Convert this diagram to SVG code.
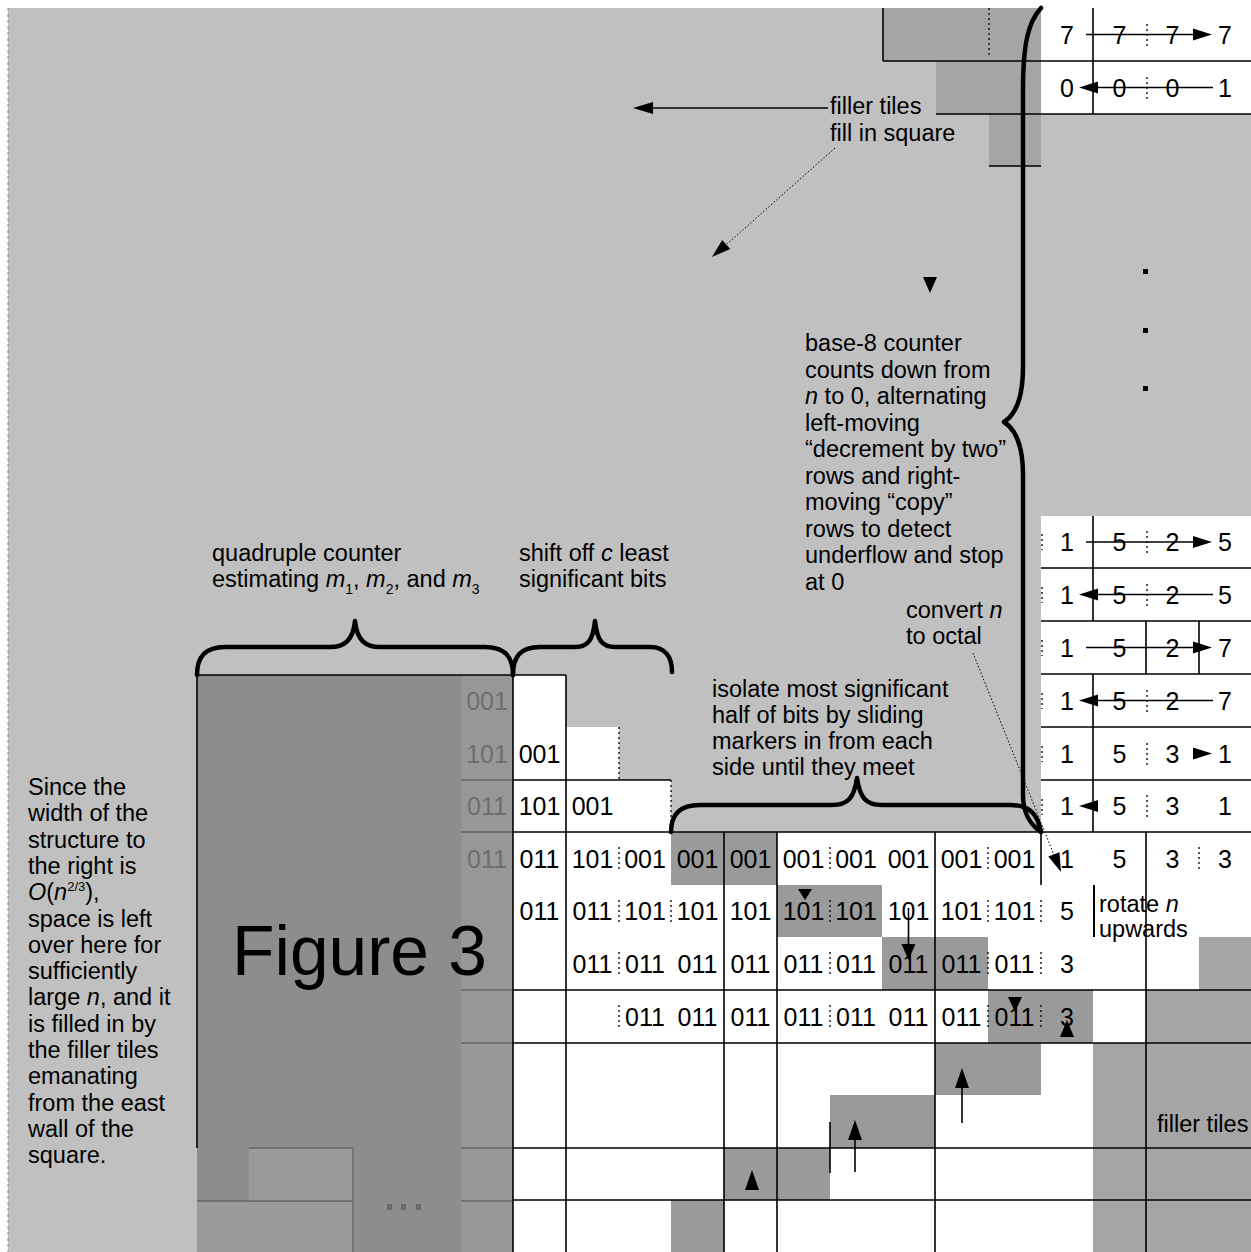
<svg xmlns="http://www.w3.org/2000/svg" width="1251" height="1252" viewBox="0 0 1251 1252">
<style>
.d{font-family:"Liberation Sans",Arial,sans-serif;font-size:25px;text-anchor:middle;fill:#000}
.gt{fill:#6e6e6e}
.lb{font-family:"Liberation Sans",Arial,sans-serif;font-size:23.5px;fill:#000}
.it{font-style:italic}
.ln{stroke:#000;stroke-width:1.6;fill:none}
.gl{stroke:#666;stroke-width:1.3;fill:none}
.ds{stroke:#000;stroke-width:1.3;stroke-dasharray:2 3;fill:none}
.dt{stroke:#000;stroke-width:1;stroke-dasharray:1.5 2;fill:none}
.br{fill:none;stroke:#000;stroke-width:4.5;stroke-linecap:round;stroke-linejoin:round}
.st{fill:#9a9a9a}
.fl{fill:#a5a5a5}
.w{fill:#fff}
.ah{fill:#000}
</style>
<rect x="0" y="0" width="1251" height="1252" fill="#fff"/>
<rect x="8" y="8" width="1243" height="1244" fill="#c0c0c0"/>
<line x1="8" y1="8" x2="8" y2="1252" stroke="#888" stroke-width="1" stroke-dasharray="3 3"/>

<g id="white-cells">
<rect class="w" x="1041" y="8" width="210" height="106"/>
<rect class="w" x="1041" y="516" width="210" height="316"/>
<rect class="w" x="513" y="675" width="53" height="105"/>
<rect class="w" x="566" y="727" width="53" height="53"/>
<rect class="w" x="513" y="780" width="158" height="52"/>
<rect class="w" x="513" y="832" width="738" height="420"/>
</g>

<g id="left-block">
<rect x="197" y="675" width="264" height="577" fill="#8d8d8d"/>
<rect x="461" y="675" width="52" height="577" fill="#979797"/>
<rect x="249" y="1148" width="104" height="53" fill="#9a9a9a"/>
<rect x="197" y="1201" width="156" height="51" fill="#9a9a9a"/>
<path class="gl" d="M461 780H513M461 832H513M461 990H513M461 1043H513M461 1148H513M461 1201H513M249 1148H353M197 1201H353M353 1148V1252"/>
<rect x="387" y="1204" width="5" height="6" fill="#6a6a6a"/>
<rect x="401" y="1204" width="5" height="6" fill="#6a6a6a"/>
<rect x="416" y="1204" width="5" height="6" fill="#6a6a6a"/>
<text x="232" y="975" font-family="Liberation Sans, Arial, sans-serif" font-size="69.5" fill="#000">Figure 3</text>
</g>

<g id="staircase-tiles">
<rect class="st" x="671" y="832" width="106" height="53"/>
<rect class="st" x="777" y="885" width="105" height="52"/>
<rect class="st" x="882" y="937" width="106" height="53"/>
<rect class="st" x="988" y="990" width="105" height="53"/>
<rect class="st" x="935" y="1043" width="106" height="52"/>
<rect class="st" x="830" y="1095" width="105" height="53"/>
<rect class="st" x="724" y="1148" width="106" height="52"/>
<rect class="st" x="671" y="1200" width="53" height="52"/>
</g>

<g id="filler-tiles">
<rect class="fl" x="1199" y="937" width="52" height="53"/>
<rect class="fl" x="1146" y="990" width="105" height="53"/>
<rect class="fl" x="1093" y="1043" width="158" height="209"/>
<rect class="fl" x="883" y="8" width="158" height="53"/>
<rect class="fl" x="936" y="61" width="105" height="53"/>
<rect class="fl" x="989" y="114" width="52" height="52"/>
</g>

<g id="grid-lines">
<path class="ln" d="M197 675H566M513 780H671M513 832H1251M513 990H1251M513 1043H1251M513 1148H1251M513 1200H1251"/>
<path class="ln" d="M1041 568H1251M1041 621H1251M1041 674H1251M1041 727H1251M1041 780H1251"/>
<path class="ln" d="M883 61H1251M936 114H1251M989 166H1041M883 8V61M1093 8V114"/>
<path class="ln" d="M197 675V1148M513 675V1252M566 675V1252M724 832V1252M777 832V1252M935 832V1252M1146 832V1252M1041 832V885"/>
<path class="ln" d="M1093 516V621M1093 674V832M1146 621V674M1199 621V674"/>
<path d="M1094 885V937" stroke="#000" stroke-width="2"/>
<path class="ds" d="M619 727V780M671 780V832"/>
<path class="ds" d="M619 847V870M830 847V870M988 847V870M1199 847V870"/>
<path class="ds" d="M619 900V923M671 900V923M830 900V923M988 900V923M1041 900V923"/>
<path class="ds" d="M619 952V975M830 952V975M988 952V975M1041 952V975"/>
<path class="ds" d="M619 1005V1028M830 1005V1028M988 1005V1028M1041 1005V1028"/>
<path class="ds" d="M1147 24V46M1147 77V99M1147 531V553M1147 584V606M1147 690V712M1147 743V765M1147 795V817M989 8V55"/>
<path class="ds" d="M1042 534V550M1042 587V603M1042 640V656M1042 693V709M1042 746V762M1042 799V815"/>
</g>

<g id="counter-digits" class="d">
<text x="1067" y="43.5">7</text><text x="1119.5" y="43.5">7</text><text x="1172.5" y="43.5">7</text><text x="1225" y="43.5">7</text>
<text x="1067" y="96.5">0</text><text x="1119.5" y="96.5">0</text><text x="1172.5" y="96.5">0</text><text x="1225" y="96.5">1</text>
<text x="1067" y="551">1</text><text x="1119.5" y="551">5</text><text x="1172.5" y="551">2</text><text x="1225" y="551">5</text>
<text x="1067" y="603.5">1</text><text x="1119.5" y="603.5">5</text><text x="1172.5" y="603.5">2</text><text x="1225" y="603.5">5</text>
<text x="1067" y="656.5">1</text><text x="1119.5" y="656.5">5</text><text x="1172.5" y="656.5">2</text><text x="1225" y="656.5">7</text>
<text x="1067" y="709.5">1</text><text x="1119.5" y="709.5">5</text><text x="1172.5" y="709.5">2</text><text x="1225" y="709.5">7</text>
<text x="1067" y="762.5">1</text><text x="1119.5" y="762.5">5</text><text x="1172.5" y="762.5">3</text><text x="1225" y="762.5">1</text>
<text x="1067" y="815">1</text><text x="1119.5" y="815">5</text><text x="1172.5" y="815">3</text><text x="1225" y="815">1</text>
</g>

<g id="binary-cells" class="d">
<text class="gt" x="487" y="710">001</text>
<text class="gt" x="487" y="762.5">101</text>
<text class="gt" x="487" y="815">011</text>
<text class="gt" x="487" y="867.5">011</text>
<text x="539.5" y="762.5">001</text>
<text x="539.5" y="815">101</text><text x="592.5" y="815">001</text>
<text x="539.5" y="867.5">011</text><text x="592.5" y="867.5">101</text><text x="645" y="867.5">001</text><text x="697.5" y="867.5">001</text><text x="750.5" y="867.5">001</text><text x="803.5" y="867.5">001</text><text x="856" y="867.5">001</text><text x="908.5" y="867.5">001</text><text x="961.5" y="867.5">001</text><text x="1014.5" y="867.5">001</text><text x="1067" y="867.5">1</text><text x="1119.5" y="867.5">5</text><text x="1172.5" y="867.5">3</text><text x="1225" y="867.5">3</text>
<text x="539.5" y="920">011</text><text x="592.5" y="920">011</text><text x="645" y="920">101</text><text x="697.5" y="920">101</text><text x="750.5" y="920">101</text><text x="803.5" y="920">101</text><text x="856" y="920">101</text><text x="908.5" y="920">101</text><text x="961.5" y="920">101</text><text x="1014.5" y="920">101</text><text x="1067" y="920">5</text>
<text x="592.5" y="972.5">011</text><text x="645" y="972.5">011</text><text x="697.5" y="972.5">011</text><text x="750.5" y="972.5">011</text><text x="803.5" y="972.5">011</text><text x="856" y="972.5">011</text><text x="908.5" y="972.5">011</text><text x="961.5" y="972.5">011</text><text x="1014.5" y="972.5">011</text><text x="1067" y="972.5">3</text>
<text x="645" y="1025.5">011</text><text x="697.5" y="1025.5">011</text><text x="750.5" y="1025.5">011</text><text x="803.5" y="1025.5">011</text><text x="856" y="1025.5">011</text><text x="908.5" y="1025.5">011</text><text x="961.5" y="1025.5">011</text><text x="1014.5" y="1025.5">011</text><text x="1067" y="1025.5">3</text>
</g>

<g id="labels" class="lb">
<text x="830" y="114">filler tiles</text>
<text x="830" y="141">fill in square</text>
<text x="805" y="351">base-8 counter</text>
<text x="805" y="377.5">counts down from</text>
<text x="805" y="404"><tspan class="it">n</tspan> to 0, alternating</text>
<text x="805" y="430.5">left-moving</text>
<text x="805" y="457">“decrement by two”</text>
<text x="805" y="483.5">rows and right-</text>
<text x="805" y="510">moving “copy”</text>
<text x="805" y="536.5">rows to detect</text>
<text x="805" y="563">underflow and stop</text>
<text x="805" y="589.5">at 0</text>
<text x="906" y="618">convert <tspan class="it">n</tspan></text>
<text x="906" y="644">to octal</text>
<text x="712" y="697">isolate most significant</text>
<text x="712" y="723">half of bits by sliding</text>
<text x="712" y="749">markers in from each</text>
<text x="712" y="775">side until they meet</text>
<text x="212" y="561">quadruple counter</text>
<text x="212" y="587">estimating <tspan class="it">m</tspan><tspan font-size="14" dy="7">1</tspan><tspan dy="-7">, </tspan><tspan class="it">m</tspan><tspan font-size="14" dy="7">2</tspan><tspan dy="-7">, and </tspan><tspan class="it">m</tspan><tspan font-size="14" dy="7">3</tspan></text>
<text x="519" y="561">shift off <tspan class="it">c</tspan> least</text>
<text x="519" y="587">significant bits</text>
<text x="28" y="795">Since the</text>
<text x="28" y="821.3">width of the</text>
<text x="28" y="847.6">structure to</text>
<text x="28" y="873.9">the right is</text>
<text x="28" y="900.2"><tspan class="it">O</tspan>(<tspan class="it">n</tspan><tspan font-size="13" dy="-9">2/3</tspan><tspan dy="9">),</tspan></text>
<text x="28" y="926.5">space is left</text>
<text x="28" y="952.8">over here for</text>
<text x="28" y="979.1">sufficiently</text>
<text x="28" y="1005.4">large <tspan class="it">n</tspan>, and it</text>
<text x="28" y="1031.7">is filled in by</text>
<text x="28" y="1058">the filler tiles</text>
<text x="28" y="1084.3">emanating</text>
<text x="28" y="1110.6">from the east</text>
<text x="28" y="1136.9">wall of the</text>
<text x="28" y="1163.2">square.</text>
<text x="1099" y="912">rotate <tspan class="it">n</tspan></text>
<text x="1099" y="937">upwards</text>
<text x="1157" y="1132">filler tiles</text>
</g>

<g id="connectors">
<path class="br" d="M197 675C197 657 205 647 225 647L330 647C345 647 353 640 355 621C357 640 365 647 380 647L485 647C505 647 513 657 513 675"/>
<path class="br" d="M513 675C513 657 520 647 540 647L575 647C588 647 593 640 595 621C597 640 602 647 615 647L650 647C666 647 672 658 672 672"/>
<path class="br" d="M671 832C671 814 680 805 700 805L832 805C848 805 854 798 857 778C860 798 866 805 882 805L1010 805C1030 805 1038 815 1041 832"/>
<path class="br" d="M1041 8C1028 22 1023 45 1023 90L1023 367C1023 400 1015 415 1004 422C1015 429 1023 444 1023 475L1023 795C1023 815 1031 825 1041 832" stroke-width="5"/>
<line class="ln" x1="1086" y1="34.5" x2="1195" y2="34.5" stroke-width="1.3"/>
<polygon class="ah" points="1212,34.5 1193,28.5 1193,40.5"/>
<line class="ln" x1="1097" y1="87.5" x2="1213" y2="87.5" stroke-width="1.3"/>
<polygon class="ah" points="1079,87.5 1098,81.5 1098,93.5"/>
<line class="ln" x1="1086" y1="542" x2="1195" y2="542" stroke-width="1.3"/>
<polygon class="ah" points="1212,542 1193,536 1193,548"/>
<line class="ln" x1="1097" y1="594.5" x2="1213" y2="594.5" stroke-width="1.3"/>
<polygon class="ah" points="1079,594.5 1098,588.5 1098,600.5"/>
<line class="ln" x1="1086" y1="647.5" x2="1195" y2="647.5" stroke-width="1.3"/>
<polygon class="ah" points="1212,647.5 1193,641.5 1193,653.5"/>
<line class="ln" x1="1097" y1="700.5" x2="1213" y2="700.5" stroke-width="1.3"/>
<polygon class="ah" points="1079,700.5 1098,694.5 1098,706.5"/>
<polygon class="ah" points="1212,753.5 1193,747.5 1193,759.5"/>
<polygon class="ah" points="1079,806 1098,800 1098,812"/>
<line class="ln" x1="652" y1="108" x2="828" y2="108" stroke-width="1.3"/>
<polygon class="ah" points="633,108 653,102 653,114"/>
<line class="dt" x1="835" y1="148" x2="727" y2="244"/>
<polygon class="ah" points="712,257 730.2,248.9 722.2,239.9"/>
<polygon class="ah" points="930,293 923,277 937,277"/>
<rect x="1143" y="269" width="5" height="5" fill="#000"/>
<rect x="1143" y="328" width="5" height="5" fill="#000"/>
<rect x="1143" y="386" width="5" height="5" fill="#000"/>
<line class="dt" x1="973" y1="653" x2="1054" y2="855"/>
<polygon class="ah" points="1061,872 1059.5,852.2 1048.3,856.6"/>
<polygon class="ah" points="805,900 798,889 812,889"/>
<line class="ln" x1="908.5" y1="908" x2="908.5" y2="946" stroke-width="1.3"/>
<polygon class="ah" points="908.5,960 901.5,944 915.5,944"/>
<polygon class="ah" points="1015,1012 1008,997 1022,997"/>
<polygon class="ah" points="1067,1020 1060,1037 1074,1037"/>
<line class="ln" x1="962" y1="1086" x2="962" y2="1123" stroke-width="1.3"/>
<polygon class="ah" points="962,1068 955,1088 969,1088"/>
<line class="ln" x1="855" y1="1138" x2="855" y2="1172" stroke-width="1.3"/>
<polygon class="ah" points="855,1120 848,1140 862,1140"/>
<line class="ln" x1="830" y1="1122" x2="830" y2="1173" stroke-width="1.3"/>
<polygon class="ah" points="752,1170 745,1190 759,1190"/>
</g>
</svg>
